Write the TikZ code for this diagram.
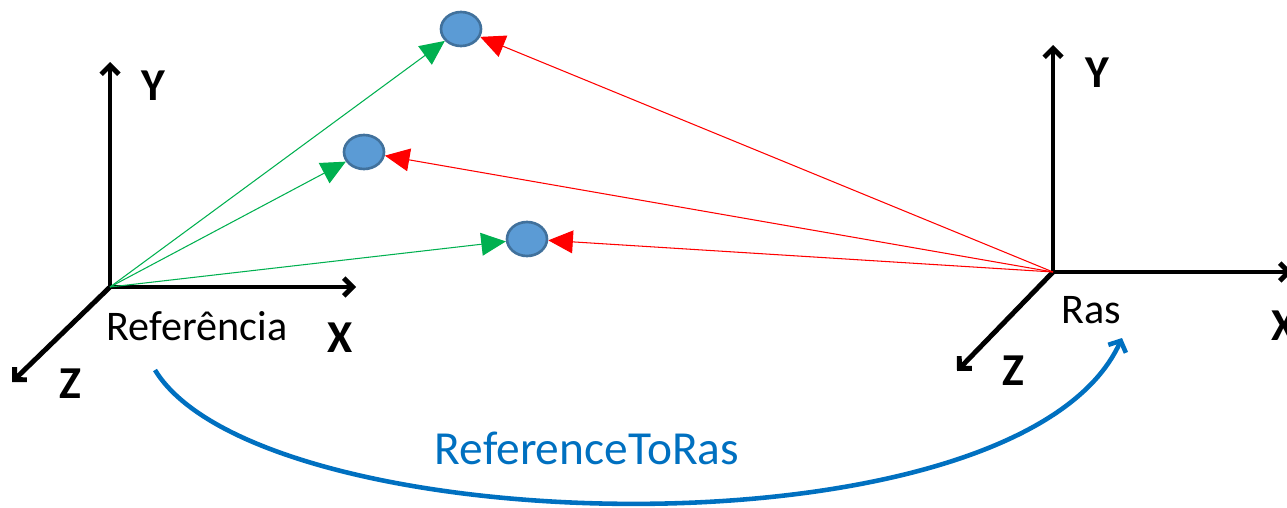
\documentclass[tikz,border=0pt]{standalone}
\usepackage{fontspec}
\setmainfont{Carlito}
\usepackage{tikz}
\usetikzlibrary{arrows.meta}
\usetikzlibrary{shapes.geometric}

\definecolor{ptfill}{HTML}{5B9BD5}
\definecolor{ptdraw}{HTML}{41719C}
\definecolor{refgreen}{HTML}{00B050}
\definecolor{arcblue}{HTML}{0070C0}

\newcommand{\axisfont}{\fontsize{26}{30}\bfseries\selectfont}
\newcommand{\namefont}{\fontsize{24}{28}\selectfont}

\begin{document}
\begin{tikzpicture}[x=0.02cm, y=-0.02cm,
        axis/.style={line width=2.8pt, -{Straight Barb[length=5pt,width=10pt]}},
        point/.style={ellipse, fill=ptfill, draw=ptdraw, line width=1.5pt,
            minimum width=0.8cm, minimum height=0.68cm, inner sep=0pt},
        toref/.style={refgreen, line width=0.6pt, -{Triangle[length=14pt,width=13pt]}},
        toras/.style={red, line width=0.6pt, -{Triangle[length=14pt,width=13pt]}},
        lbl/.style={anchor=base, inner sep=0pt}]
            \useasboundingbox (0,0) rectangle (1287,507);

            % Place the origins and axis ends
            \coordinate (refO) at (110,287);
            \coordinate (refY) at (110,62);
            \coordinate (refX) at (356,287);
            \coordinate (refZ) at (12,382);
            \coordinate (rasO) at (1053,272);
            \coordinate (rasY) at (1053,45);
            \coordinate (rasX) at (1292,272);
            \coordinate (rasZ) at (957,371);

            % Place the points
            \node[point] (p1) at (461,29) {};
            \node[point] (p2) at (364,152) {};
            \node[point] (p3) at (527,239) {};

            % Axis labels
            \node[lbl] (refYl) at (153,100) {\axisfont Y};
            \node[lbl] (refXl) at (340,352) {\axisfont X};
            \node[lbl] (refZl) at (70,398) {\axisfont Z};
            \node[lbl] (refname) at (197,340) {\namefont Referência};
            \node[lbl] (rasYl) at (1097,87) {\axisfont Y};
            \node[lbl] (rasXl) at (1284,340) {\axisfont X};
            \node[lbl] (rasZl) at (1013,385) {\axisfont Z};
            \node[lbl] (rasname) at (1091,323) {\namefont Ras};

            % The axes
            \draw[axis] (refO) -- (refY);
            \draw[axis] (refO) -- (refX);
            \draw[axis] (refO) -- (refZ);
            \draw[axis] (rasO) -- (rasY);
            \draw[axis] (rasO) -- (rasX);
            \draw[axis] (rasO) -- (rasZ);

            % The lines!
            \draw[toref] (refO) -- (p1);
            \draw[toref] (refO) -- (p2);
            \draw[toref] (refO) -- (p3);
            \draw[toras] (rasO) -- (p1);
            \draw[toras] (rasO) -- (p2);
            \draw[toras] (rasO) -- (p3);

            % The transform
            \coordinate (arcA) at (155,370);
            \coordinate (arcB) at (1122,338);
            \draw[arcblue, line width=2.6pt, -{Straight Barb[length=5pt,width=11pt]}]
                (arcA) .. controls (260,543) and (1020,563) .. (arcB);
            \node[lbl, text=arcblue] (tname) at (587,464) {\fontsize{27}{32}\selectfont ReferenceToRas};
        \end{tikzpicture}
\end{document}
